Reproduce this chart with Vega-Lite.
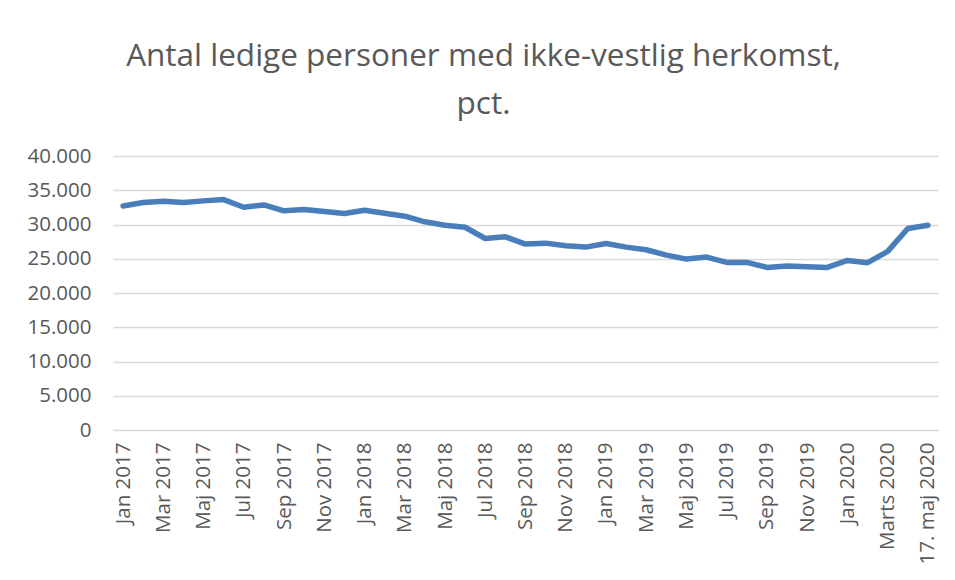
{
  "$schema": "https://vega.github.io/schema/vega-lite/v6.json",
  "autosize": "none",
  "width": 825,
  "height": 274,
  "padding": {"left": 113, "top": 156, "right": 17, "bottom": 150},
  "background": "white",
  "title": {
    "text": ["Antal ledige personer med ikke-vestlig herkomst,", "pct."],
    "font": "Open Sans",
    "fontSize": 31.5,
    "fontWeight": "normal",
    "color": "#595959",
    "anchor": "middle",
    "lineHeight": 48,
    "offset": 26,
    "dx": -42
  },
  "data": {
    "values": [
      {"maaned": "Jan 2017", "ledige": 32700},
      {"maaned": "Feb 2017", "ledige": 33200},
      {"maaned": "Mar 2017", "ledige": 33400},
      {"maaned": "Apr 2017", "ledige": 33200},
      {"maaned": "Maj 2017", "ledige": 33450},
      {"maaned": "Jun 2017", "ledige": 33640},
      {"maaned": "Jul 2017", "ledige": 32520},
      {"maaned": "Aug 2017", "ledige": 32860},
      {"maaned": "Sep 2017", "ledige": 32000},
      {"maaned": "Okt 2017", "ledige": 32180},
      {"maaned": "Nov 2017", "ledige": 31900},
      {"maaned": "Dec 2017", "ledige": 31600},
      {"maaned": "Jan 2018", "ledige": 32090},
      {"maaned": "Feb 2018", "ledige": 31650},
      {"maaned": "Mar 2018", "ledige": 31210},
      {"maaned": "Apr 2018", "ledige": 30390},
      {"maaned": "Maj 2018", "ledige": 29900},
      {"maaned": "Jun 2018", "ledige": 29600},
      {"maaned": "Jul 2018", "ledige": 27960},
      {"maaned": "Aug 2018", "ledige": 28200},
      {"maaned": "Sep 2018", "ledige": 27140},
      {"maaned": "Okt 2018", "ledige": 27280},
      {"maaned": "Nov 2018", "ledige": 26900},
      {"maaned": "Dec 2018", "ledige": 26700},
      {"maaned": "Jan 2019", "ledige": 27230},
      {"maaned": "Feb 2019", "ledige": 26700},
      {"maaned": "Mar 2019", "ledige": 26310},
      {"maaned": "Apr 2019", "ledige": 25530},
      {"maaned": "Maj 2019", "ledige": 24950},
      {"maaned": "Jun 2019", "ledige": 25240},
      {"maaned": "Jul 2019", "ledige": 24470},
      {"maaned": "Aug 2019", "ledige": 24470},
      {"maaned": "Sep 2019", "ledige": 23740},
      {"maaned": "Okt 2019", "ledige": 23930},
      {"maaned": "Nov 2019", "ledige": 23830},
      {"maaned": "Dec 2019", "ledige": 23740},
      {"maaned": "Jan 2020", "ledige": 24760},
      {"maaned": "Feb 2020", "ledige": 24420},
      {"maaned": "Marts 2020", "ledige": 26070},
      {"maaned": "April 2020", "ledige": 29420},
      {"maaned": "17. maj 2020", "ledige": 29900}
    ]
  },
  "mark": {
    "type": "line",
    "color": "#4a7ebb",
    "strokeWidth": 5.5,
    "strokeCap": "round",
    "strokeJoin": "round"
  },
  "encoding": {
    "x": {
      "field": "maaned",
      "type": "ordinal",
      "sort": null,
      "scale": {"type": "point", "padding": 0.5},
      "axis": {
        "title": null,
        "values": ["Jan 2017", "Mar 2017", "Maj 2017", "Jul 2017", "Sep 2017", "Nov 2017", "Jan 2018", "Mar 2018", "Maj 2018", "Jul 2018", "Sep 2018", "Nov 2018", "Jan 2019", "Mar 2019", "Maj 2019", "Jul 2019", "Sep 2019", "Nov 2019", "Jan 2020", "Marts 2020", "17. maj 2020"],
        "labelAngle": -90,
        "labelFont": "Open Sans",
        "labelFontSize": 20.5,
        "labelColor": "#595959",
        "labelPadding": 12,
        "ticks": false,
        "domainColor": "#d9d9d9",
        "domainWidth": 1,
        "grid": false
      }
    },
    "y": {
      "field": "ledige",
      "type": "quantitative",
      "scale": {"domain": [0, 40000], "nice": false, "zero": true},
      "axis": {
        "title": null,
        "values": [0, 5000, 10000, 15000, 20000, 25000, 30000, 35000, 40000],
        "labelExpr": "replace(format(datum.value, ','), ',', '.')",
        "labelFont": "Open Sans",
        "labelFontSize": 20.5,
        "labelColor": "#595959",
        "labelPadding": 22,
        "ticks": false,
        "domain": false,
        "grid": true,
        "gridColor": "#d9d9d9",
        "gridWidth": 1.5
      }
    }
  },
  "config": {
    "view": {"stroke": null}
  }
}
